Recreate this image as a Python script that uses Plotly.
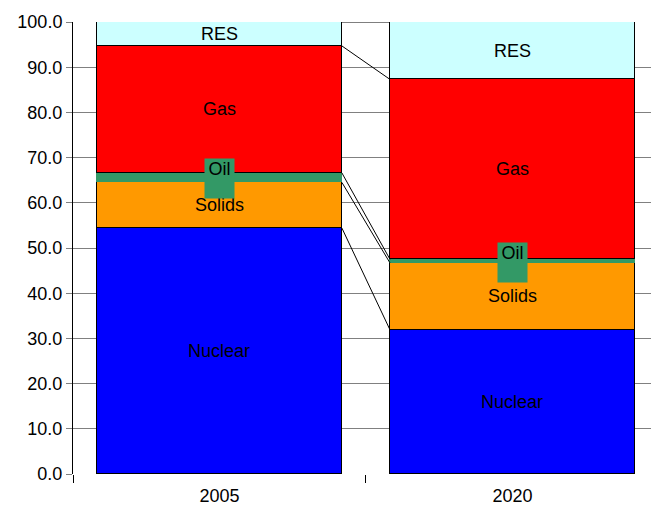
import plotly.graph_objects as go

years = ["2005", "2020"]
series = ["Nuclear", "Solids", "Oil", "Gas", "RES"]
nuclear = [54.4, 31.9]
solids = [10.1, 14.8]
oil = [2.1, 0.8]
gas = [28.1, 39.8]
res = [5.3, 12.7]
colors = ["#0000FF", "#FF9900", "#339966", "#FF0000", "#CCFFFF"]
yticks = [0, 10, 20, 30, 40, 50, 60, 70, 80, 90, 100]

values = [nuclear, solids, oil, gas, res]
xpos = [0, 1]
bw = 0.836
FONT = "Liberation Sans, Arial, sans-serif"

fig = go.Figure()
for name, vals, col in zip(series, values, colors):
    lc = col if name == "Oil" else "#000000"
    fig.add_trace(go.Bar(x=xpos, y=vals, name=name, width=bw, cliponaxis=False,
                         marker=dict(color=col, line=dict(color=lc, width=1.5)),
                         hoverinfo="skip"))

# cumulative tops
cum = []
running = [0.0, 0.0]
for vals in values:
    bottoms = running[:]
    running = [running[i] + vals[i] for i in range(2)]
    cum.append((bottoms, running[:]))

# series lines
for bottoms, tops in cum:
    fig.add_trace(go.Scatter(x=[xpos[0] + bw / 2, xpos[1] - bw / 2], y=tops,
                             mode="lines", line=dict(color="black", width=1),
                             cliponaxis=False,
                             hoverinfo="skip", showlegend=False))

annotations = []
for name, (bottoms, tops) in zip(series, cum):
    for i in range(2):
        yc = (bottoms[i] + tops[i]) / 2
        if name == "Oil":
            annotations.append(dict(x=xpos[i], y=yc, xref="x", yref="y", text="Oil",
                                    showarrow=False, bgcolor="#339966",
                                    width=29, height=39, valign="top", borderpad=0,
                                    yshift=-1,
                                    font=dict(family=FONT, size=18, color="black")))
        else:
            annotations.append(dict(x=xpos[i], y=yc, xref="x", yref="y", text=name,
                                    showarrow=False,
                                    font=dict(family=FONT, size=18, color="black")))

fig.update_layout(
    width=651, height=508,
    margin=dict(l=73, r=0, t=22, b=34, autoexpand=False),
    paper_bgcolor="white", plot_bgcolor="white",
    barmode="stack", bargap=0, showlegend=False,
    annotations=annotations,
    font=dict(family=FONT, size=18, color="black"),
    xaxis=dict(range=[-0.5, 1.473], tickvals=xpos, ticktext=years,
               showgrid=False, zeroline=False, showline=False, automargin=False,
               ticks="", ticklen=0, ticklabelstandoff=9,
               minor=dict(tickvals=[-0.5, 0.5, 1.5], ticks="outside", ticklen=8,
                          tickcolor="black", showgrid=False),
               tickfont=dict(family=FONT, size=18, color="black")),
    yaxis=dict(range=[0, 100], tickvals=yticks, automargin=False,
               ticktext=[f"{v:.1f}" for v in yticks],
               showgrid=True, gridcolor="#808080", gridwidth=1,
               zeroline=False, showline=True, linecolor="black", linewidth=1,
               ticks="outside", ticklen=6, tickcolor="#808080",
               tickfont=dict(family=FONT, size=18, color="black")),
)

fig.write_html("out.html")
